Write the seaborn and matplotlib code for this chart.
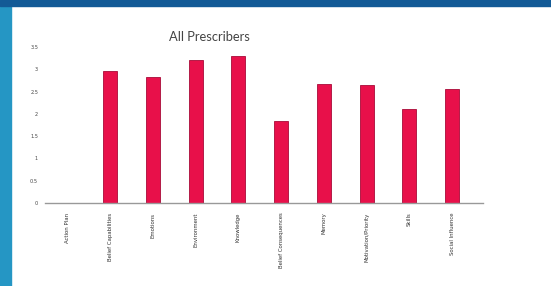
import numpy as np
import pandas as pd
import seaborn as sns
import matplotlib.pyplot as plt
from matplotlib.patches import Rectangle

categories = ["Action Plan", "Belief Capabilities", "Emotions", "Environment",
              "Knowledge", "Belief Consequences", "Memory", "Motivation/Priority",
              "Skills", "Social Influence"]
scores = [0.0, 2.96, 2.83, 3.2, 3.3, 1.84, 2.67, 2.65, 2.1, 2.56]
y_ticks = [0, 0.5, 1, 1.5, 2, 2.5, 3, 3.5]
y_tick_labels = ["0", "0.5", "1", "1.5", "2", "2.5", "3", "3.5"]


def draw_frame(fig):
    # page chrome around the chart card
    fig.patches.append(Rectangle((0, 0), 11 / 551, 1, transform=fig.transFigure,
                                 color="#2596c4", zorder=0))
    fig.patches.append(Rectangle((0, 1 - 6 / 286), 1, 6 / 286, transform=fig.transFigure,
                                 color="#135a96", zorder=0))


def bar_chart(frame):
    sns.set_theme(style="white")
    fig = plt.figure(figsize=(5.51, 2.86), dpi=100)
    draw_frame(fig)
    ax = fig.add_axes([45 / 551, 83 / 286, 438 / 551, 156 / 286])
    sns.barplot(data=frame, x="category", y="score", color="#e8104a", width=0.33,
                edgecolor="#a80a38", linewidth=0.6, saturation=1, ax=ax)
    ax.set_xlim(-0.52, 9.72)
    ax.set_ylim(0, 3.5)
    ax.set_yticks(y_ticks)
    ax.set_yticklabels(y_tick_labels, fontsize=3.6, color="#444444")
    ax.set_xticks(range(len(categories)))
    ax.set_xticklabels(categories, rotation=90, fontsize=3.9, color="#333333")
    ax.tick_params(axis="y", length=0, pad=5)
    ax.tick_params(axis="x", length=0, pad=7)
    ax.set_xlabel("")
    ax.set_ylabel("")
    sns.despine(ax=ax, left=True)
    ax.spines["bottom"].set_color("#999999")
    ax.spines["bottom"].set_linewidth(1)
    fig.text(209 / 551, 1 - 37 / 286, "All Prescribers", ha="center", va="center",
             fontsize=9.3, color="#444444", family="Lato")
    fig.savefig("out.png", dpi=100)


if __name__ == '__main__':
    data_frame = pd.DataFrame({"category": categories, "score": scores})
    bar_chart(data_frame)
